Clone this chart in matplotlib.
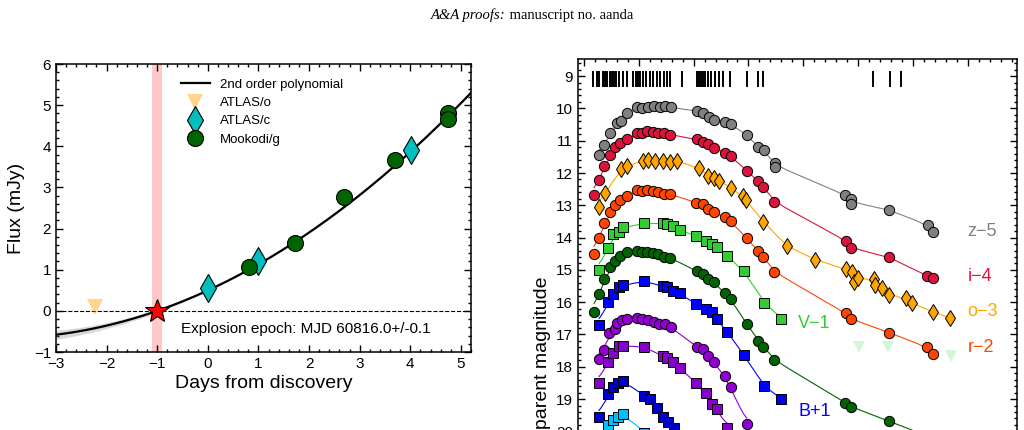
import numpy as np
import matplotlib
matplotlib.use("Agg")
import matplotlib.pyplot as plt
from matplotlib.ticker import MultipleLocator

plt.rcParams['font.family'] = ['Liberation Sans', 'DejaVu Sans']

# ---- left panel: early flux rise ----
atlas_o_t = [-2.23]
atlas_o_f = [0.10]
atlas_c_t = [0.0, 1.0, 4.01]
atlas_c_f = [0.56, 1.21, 3.91]
mook_g_t = [0.81, 1.72, 2.70, 3.70, 4.75, 4.75]
mook_g_f = [1.07, 1.64, 2.77, 3.67, 4.80, 4.66]
# 2nd order polynomial (highest power first)
poly_coef = [0.0689, 0.5656, 0.4967]
epoch_text = "Explosion epoch: MJD 60816.0+/-0.1"
epoch_err = 0.1

# ---- right panel: light curves (plotted magnitudes, offsets included) ----
spec_days = [1.70, 2.32, 2.79, 3.41, 3.83, 4.25, 4.74, 5.17, 5.47, 5.84, 6.44, 7.17,
             7.79, 8.99, 9.43, 9.80, 10.22, 10.82, 11.31, 12.04, 12.65, 13.27, 13.87,
             14.65, 15.09, 15.69, 17.83, 20.68, 21.04, 21.29, 21.66, 22.08, 22.68,
             23.12, 23.91, 24.69, 25.42, 26.64, 29.69, 31.81, 32.61, 52.80, 55.84, 57.85]

z_days = [2.74, 3.70, 4.74, 5.97, 6.75, 7.79, 9.73, 10.64, 11.73, 12.77, 13.87, 14.84,
          15.82, 20.68, 21.77, 22.81, 23.72, 25.73, 26.77, 29.80, 31.81, 32.79, 34.85,
          34.85, 47.63, 48.72, 48.72, 55.71, 62.68, 63.69]
z_mags = [11.45, 11.14, 10.77, 10.46, 10.38, 10.15, 9.95, 10.00, 9.97, 9.92, 9.95, 9.93,
          9.97, 10.08, 10.15, 10.26, 10.36, 10.41, 10.49, 10.83, 11.21, 11.29, 11.70,
          11.81, 12.68, 12.82, 12.96, 13.15, 13.61, 13.84]

i_days = [1.82, 2.74, 3.71, 4.74, 5.66, 6.57, 7.79, 9.61, 10.53, 11.55, 12.53, 13.56,
          14.60, 15.69, 20.56, 21.65, 22.69, 23.72, 25.73, 26.77, 29.69, 31.81, 32.72,
          34.73, 47.81, 48.72, 55.66, 62.65, 63.63]
i_mags = [12.68, 12.22, 11.78, 11.45, 11.21, 11.08, 10.95, 10.77, 10.77, 10.70, 10.72,
          10.75, 10.77, 10.81, 10.96, 11.03, 11.11, 11.22, 11.37, 11.47, 11.93, 12.25,
          12.43, 12.89, 14.10, 14.32, 14.61, 15.19, 15.26]

o_days = [2.74, 3.83, 6.75, 7.79, 10.71, 11.73, 12.96, 14.36, 15.69, 17.03, 21.04, 22.69,
          23.72, 24.70, 26.77, 28.96, 29.56, 32.72, 36.98, 42.15, 47.81, 48.96, 49.33,
          49.94, 52.92, 53.10, 54.32, 55.71, 58.76, 59.80, 63.74, 66.79]
o_mags = [13.05, 12.61, 11.88, 11.78, 11.62, 11.60, 11.62, 11.62, 11.65, 11.62, 11.86,
          12.09, 12.14, 12.24, 12.45, 12.71, 12.84, 13.51, 14.26, 14.68, 14.98, 15.06,
          15.37, 15.24, 15.29, 15.47, 15.57, 15.78, 15.88, 16.04, 16.30, 16.50]
o_errs = [0.03, 0.02, 0.02, 0.02, 0.02, 0.02, 0.02, 0.02, 0.02, 0.02, 0.02, 0.02, 0.02,
          0.02, 0.03, 0.03, 0.03, 0.04, 0.05, 0.13, 0.05, 0.05, 0.06, 0.05, 0.06, 0.06,
          0.05, 0.06, 0.06, 0.06, 0.06, 0.06]

r_days = [1.82, 2.74, 3.71, 4.74, 5.66, 6.57, 7.79, 9.61, 10.53, 11.55, 12.53, 13.56,
          14.60, 15.69, 20.44, 21.65, 22.69, 23.72, 25.73, 26.77, 29.69, 31.81, 32.72,
          34.73, 47.81, 48.72, 55.66, 62.65, 63.63]
r_mags = [14.51, 14.02, 13.54, 13.20, 12.99, 12.84, 12.71, 12.53, 12.55, 12.53, 12.56,
          12.60, 12.65, 12.65, 12.92, 12.96, 13.10, 13.22, 13.37, 13.49, 14.02, 14.42,
          14.61, 15.06, 16.35, 16.52, 16.94, 17.40, 17.61]

V_days = [2.74, 4.32, 5.24, 6.39, 7.18, 11.00, 14.36, 15.09, 16.30, 17.52, 20.38, 22.26,
          23.30, 24.21, 26.15, 29.20, 32.85, 35.95]
V_mags = [15.01, 14.33, 13.90, 13.82, 13.68, 13.56, 13.56, 13.58, 13.64, 13.77, 13.95,
          14.10, 14.20, 14.28, 14.57, 15.04, 16.01, 16.52]
V_lim_days = [50.24, 55.42, 66.92]
V_lim_mags = [17.40, 17.40, 17.67]

g_days = [1.82, 2.74, 3.71, 4.74, 5.66, 6.57, 7.79, 9.61, 10.53, 11.55, 12.53, 13.56,
          14.60, 15.69, 20.56, 21.65, 22.69, 23.72, 25.73, 26.77, 29.69, 31.81, 32.72,
          34.73, 47.63, 48.72, 55.66, 62.65, 63.63]
g_mags = [16.30, 15.75, 15.29, 14.92, 14.73, 14.57, 14.44, 14.41, 14.44, 14.46, 14.49,
          14.52, 14.59, 14.62, 15.04, 15.13, 15.29, 15.39, 15.71, 15.90, 16.68, 17.19,
          17.38, 17.79, 19.11, 19.24, 19.68, 20.15, 20.25]

B_days = [2.74, 4.32, 5.24, 6.39, 7.18, 11.00, 14.36, 15.09, 16.30, 17.52, 20.38, 22.26,
          23.30, 24.21, 26.15, 29.20, 32.85, 35.95]
B_mags = [16.71, 15.99, 15.76, 15.54, 15.47, 15.35, 15.50, 15.54, 15.66, 15.73, 16.06,
          16.22, 16.29, 16.53, 16.92, 17.64, 18.60, 19.01]

pc_days = [2.74, 3.70, 4.62, 5.57, 5.97, 6.88, 7.79, 9.67, 10.64, 11.73, 12.77, 13.74,
           14.84, 15.78, 20.56, 21.65, 22.69, 23.72, 25.73, 26.77, 29.69]
pc_mags = [17.76, 17.47, 16.94, 16.82, 16.65, 16.55, 16.51, 16.48, 16.51, 16.54, 16.60,
           16.66, 16.68, 16.77, 17.38, 17.46, 17.67, 17.86, 18.29, 18.64, 19.77]

ps_days = [2.74, 4.32, 5.24, 6.39, 7.18, 11.00, 14.36, 15.09, 16.30, 17.52, 20.38, 22.26,
           23.30, 24.21, 26.15]
ps_mags = [18.49, 17.84, 17.57, 17.36, 17.35, 17.38, 17.67, 17.74, 17.84, 18.05, 18.49,
           18.82, 19.16, 19.32, 19.89]

db_days = [2.74, 4.32, 5.24, 6.15, 7.17, 11.00, 12.04, 13.27, 14.47, 15.38, 16.48]
db_mags = [19.55, 18.85, 18.62, 18.51, 18.43, 18.90, 19.00, 19.29, 19.55, 19.70, 19.91]

lb_days = [2.74, 4.32, 5.24, 6.20, 7.17, 11.00]
lb_mags = [20.30, 19.79, 19.65, 19.55, 19.45, 20.05]

band_labels = ["z\u22125", "i\u22124", "o\u22123", "r\u22122", "V\u22121", "B+1"]
label_x = [70.0, 70.0, 70.0, 70.0, 39.1, 39.1]
label_y = [13.82, 15.19, 16.30, 17.39, 16.66, 19.39]
label_colors = ["grey", "#DC143C", "#FFA500", "#FF4500", "#32CD32", "#0000FF"]


def guide_line(x, y, width=1.2):
    # smooth guide curve through the photometry (like a GP fit)
    x = np.asarray(x); y = np.asarray(y)
    ux, inv = np.unique(x, return_inverse=True)
    uy = np.bincount(inv, y) / np.bincount(inv)
    grid = np.linspace(ux[0], ux[-1], 800)
    lin = np.interp(grid, ux, uy)
    step = grid[1] - grid[0]
    half = int(3 * width / step)
    k = np.arange(-half, half + 1) * step
    kern = np.exp(-0.5 * (k / width) ** 2)
    kern /= kern.sum()
    sm = np.convolve(np.pad(lin, half, mode='edge'), kern, mode='valid')
    return grid, sm


fig = plt.figure(figsize=(10.24, 4.30), dpi=100)

# header line of the page
hdr = fig.text(431 / 1024, 1 - 15 / 430, "A&A proofs:", family='Liberation Serif',
               style='italic', fontsize=10.5, va='center', ha='left')
ax1 = fig.add_axes([56 / 1024, 78 / 430, 415 / 1024, 288 / 430])
ax1.annotate(" manuscript no. aanda", xy=(1, 0), xycoords=hdr, va='bottom', ha='left',
             family='Liberation Serif', fontsize=10.5, annotation_clip=False)

# polynomial and its uncertainty band (from the detections' scatter)
t_det = np.array(atlas_c_t + mook_g_t)
f_det = np.array(atlas_c_f + mook_g_f)
_, cov = np.polyfit(t_det, f_det, 2, cov=True)
roots = np.roots(poly_coef).real
t_exp = roots[(roots > -3) & (roots < 0)][0]
tt = np.linspace(-3, 5.2, 300)
V = np.vander(tt, 3)
fit = V @ np.array(poly_coef)
sig = 0.25 * np.sqrt(np.einsum('ij,jk,ik->i', V, cov, V))

ax1.axvspan(t_exp - epoch_err, t_exp + epoch_err, color='#FFC8C8', lw=0, zorder=0)
ax1.axhline(0, color='k', ls='--', lw=0.8, zorder=1)
ax1.fill_between(tt, fit - sig, fit + sig, color='grey', alpha=0.3, lw=0, zorder=2)
ax1.plot(tt, fit, color='k', lw=1.6, zorder=3, label='2nd order polynomial')
ax1.plot(atlas_o_t, atlas_o_f, 'v', color='#FFA500', alpha=0.45, ms=12, mew=0,
         ls='none', label='ATLAS/o', zorder=4)
ax1.plot(atlas_c_t, atlas_c_f, 'd', color='#00BFBF', mec='k', mew=0.8, ms=14,
         ls='none', label='ATLAS/c', zorder=5)
ax1.plot(mook_g_t, mook_g_f, 'o', color='#006400', mec='k', mew=0.8, ms=11.5,
         ls='none', label='Mookodi/g', zorder=5)
ax1.plot([t_exp], [0], '*', color='red', mec='k', mew=0.8, ms=18, zorder=6)
ax1.text(-0.53, -0.44, epoch_text, fontsize=11, va='center', ha='left')

ax1.set_xlim(-3, 5.2)
ax1.set_ylim(-1, 6)
ax1.xaxis.set_major_locator(MultipleLocator(1))
ax1.xaxis.set_minor_locator(MultipleLocator(0.2))
ax1.yaxis.set_major_locator(MultipleLocator(1))
ax1.yaxis.set_minor_locator(MultipleLocator(0.2))
ax1.set_xlabel('Days from discovery', fontsize=14, labelpad=3)
ax1.set_ylabel('Flux (mJy)', fontsize=14, labelpad=6)
ax1.legend(loc='upper left', bbox_to_anchor=(0.272, 0.99), frameon=False, fontsize=9.5,
           numpoints=1, handlelength=2.2, labelspacing=0.45, handletextpad=0.8)

# ---- right panel ----
ax2 = fig.add_axes([578 / 1024, (430 - 671) / 430, 439 / 1024, 612 / 430])

series = [
    (z_days, z_mags, 'o', 'grey', 7.4),
    (i_days, i_mags, 'o', '#DC143C', 7.4),
    (r_days, r_mags, 'o', '#FF4500', 7.4),
    (V_days, V_mags, 's', '#32CD32', 6.6),
    (g_days, g_mags, 'o', '#006400', 7.4),
    (B_days, B_mags, 's', '#0000FF', 6.6),
    (pc_days, pc_mags, 'o', '#9400D3', 7.4),
    (ps_days, ps_mags, 's', '#8800CC', 6.6),
    (db_days, db_mags, 's', '#0000CD', 6.6),
    (lb_days, lb_mags, 's', '#00BFFF', 6.6),
]
for d, m, mk, col, ms in series:
    gx, gy = guide_line(d, m)
    ax2.plot(gx, gy, color=col, lw=0.8, zorder=2)
    ax2.plot(d, m, mk, color=col, mec='k', mew=0.7, ms=ms, ls='none', zorder=3)

gx, gy = guide_line(o_days, o_mags)
ax2.plot(gx, gy, color='#FFA500', lw=0.8, zorder=2)
ax2.errorbar(o_days, o_mags, yerr=o_errs, fmt='d', color='#FFA500', mec='k', mew=0.7,
             ms=8.5, ecolor='#FFA500', elinewidth=1, zorder=3)
ax2.plot(V_lim_days, V_lim_mags, 'v', color='#32CD32', alpha=0.2, ms=9, mew=0,
         ls='none', zorder=3)

ax2.plot(spec_days, np.full(len(spec_days), 9.08), '|', color='k', ms=12, mew=1.4)

for lab, lx, ly, lc in zip(band_labels, label_x, label_y, label_colors):
    ax2.text(lx, ly, lab, color=lc, fontsize=13, va='center', ha='left')

ax2.set_xlim(-1.1, 79)
ax2.set_ylim(27.42, 8.47)
ax2.xaxis.set_major_locator(MultipleLocator(10))
ax2.xaxis.set_minor_locator(MultipleLocator(2))
ax2.yaxis.set_major_locator(MultipleLocator(1))
ax2.yaxis.set_minor_locator(MultipleLocator(0.2))
ax2.set_ylabel('Apparent magnitude', fontsize=14)

for ax in (ax1, ax2):
    ax.tick_params(which='both', direction='in', top=True, right=True, width=1)
    ax.tick_params(which='major', length=5, labelsize=11)
    ax.tick_params(which='minor', length=2.5)
    for s in ax.spines.values():
        s.set_linewidth(1.1)
ax2.tick_params(labelbottom=False)

fig.savefig('out.png', dpi=100)
